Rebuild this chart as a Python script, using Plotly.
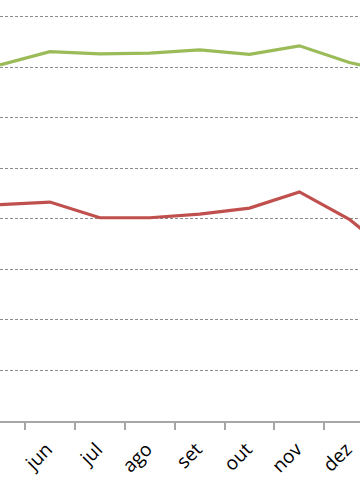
import plotly.graph_objects as go

months = ["mai", "jun", "jul", "ago", "set", "out", "nov", "dez", "jan"]
green_vals = [70.4, 73.05, 72.6, 72.75, 73.4, 72.5, 74.2, 70.9, 68.7]
red_vals = [42.8, 43.3, 40.2, 40.2, 40.9, 42.1, 45.3, 39.9, 31.9]
grid_vals = [0, 10, 20, 30, 40, 50, 60, 70, 80]

x_idx = list(range(len(months)))

fig = go.Figure()
fig.add_trace(go.Scatter(x=x_idx, y=green_vals, mode="lines",
                         line=dict(color="#9BBB59", width=3.2), showlegend=False))
fig.add_trace(go.Scatter(x=x_idx, y=red_vals, mode="lines",
                         line=dict(color="#C0504D", width=3.2), showlegend=False))

fig.update_layout(
    width=360, height=504,
    margin=dict(l=0, r=0, t=0, b=83, autoexpand=False),
    plot_bgcolor="white", paper_bgcolor="white",
    font=dict(family="Open Sans", size=19, color="#000000"),
)
fig.update_xaxes(
    range=[0, 7.214], automargin=False,
    tickmode="array", tickvals=x_idx, ticktext=months,
    tickangle=-45, ticks="", showgrid=False,
    showline=True, linecolor="#a6a6a6", linewidth=1.5,
    ticklabelstandoff=8, ticklabelshift=-3,
    minor=dict(tick0=0.5, dtick=1, ticks="outside", ticklen=7,
               tickcolor="#a6a6a6", tickwidth=1.5, showgrid=False),
    zeroline=False,
)
fig.update_yaxes(
    range=[0, 83.26], automargin=False,
    tickmode="array", tickvals=grid_vals, showticklabels=False,
    showgrid=True, gridcolor="#8a8a8a", gridwidth=1, griddash="3px,2px",
    zeroline=False, showline=False,
)
fig.write_html(
    "out.html",
    config={"displayModeBar": False},
    post_script="document.body.style.margin='0';document.body.style.overflow='hidden';",
)
